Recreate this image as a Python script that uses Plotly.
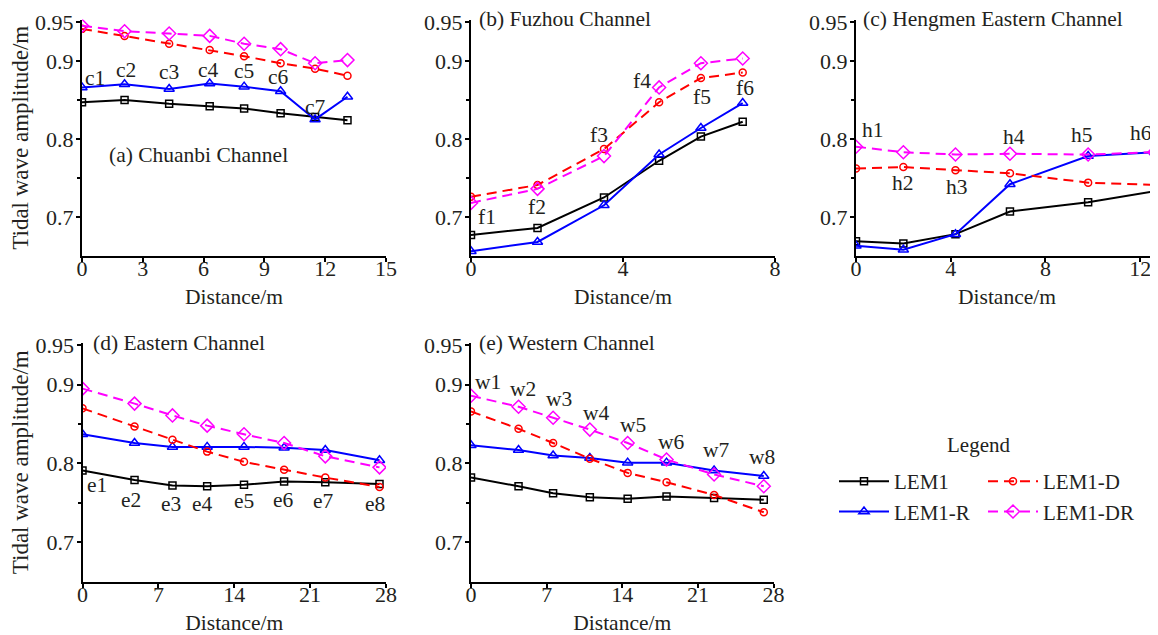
import plotly.graph_objects as go

FONT = "Liberation Serif"
TXT = "#231f20"

# ---------------- data ----------------
series_names = ["LEM1", "LEM1-R", "LEM1-D", "LEM1-DR"]

# (a) Chuanbi Channel
a_x = [0, 2.1, 4.3, 6.3, 8.0, 9.8, 11.5, 13.1]
a_lem1 = [0.847, 0.850, 0.845, 0.842, 0.839, 0.833, 0.828, 0.824]
a_lem1r = [0.866, 0.870, 0.864, 0.871, 0.867, 0.861, 0.825, 0.854]
a_lem1d = [0.941, 0.932, 0.922, 0.914, 0.906, 0.897, 0.890, 0.881]
a_lem1dr = [0.945, 0.938, 0.935, 0.932, 0.922, 0.915, 0.897, 0.901]
a_labels = ["c1", "c2", "c3", "c4", "c5", "c6", "c7"]
a_lab_x = [0.65, 2.15, 4.3, 6.25, 8.0, 9.7, 11.5]
a_lab_y = [0.878, 0.888, 0.886, 0.888, 0.887, 0.879, 0.841]

# (b) Fuzhou Channel
b_x = [0, 1.75, 3.5, 4.95, 6.05, 7.15]
b_lem1 = [0.677, 0.686, 0.725, 0.772, 0.803, 0.822]
b_lem1r = [0.656, 0.668, 0.715, 0.780, 0.814, 0.846]
b_lem1d = [0.726, 0.741, 0.787, 0.847, 0.878, 0.885]
b_lem1dr = [0.718, 0.736, 0.778, 0.866, 0.897, 0.903]
b_labels = ["f1", "f2", "f3", "f4", "f5", "f6"]
b_lab_x = [0.42, 1.73, 3.37, 4.51, 6.07, 7.21]
b_lab_y = [0.700, 0.713, 0.805, 0.874, 0.854, 0.865]

# (c) Hengmen Eastern Channel
c_x = [0, 2.0, 4.2, 6.5, 9.8, 12.6]
c_lem1 = [0.669, 0.666, 0.678, 0.707, 0.719, 0.733]
c_lem1r = [0.663, 0.658, 0.678, 0.742, 0.778, 0.783]
c_lem1d = [0.762, 0.764, 0.760, 0.756, 0.744, 0.741]
c_lem1dr = [0.790, 0.783, 0.780, 0.781, 0.780, 0.783]
c_labels = ["h1", "h2", "h3", "h4", "h5", "h6"]
c_lab_x = [0.73, 2.0, 4.25, 6.65, 9.53, 12.03]
c_lab_y = [0.811, 0.743, 0.738, 0.803, 0.805, 0.807]

# (d) Eastern Channel
d_x = [0, 4.8, 8.3, 11.5, 14.9, 18.6, 22.4, 27.4]
d_lem1 = [0.791, 0.779, 0.772, 0.771, 0.773, 0.777, 0.776, 0.774]
d_lem1r = [0.837, 0.826, 0.821, 0.821, 0.821, 0.820, 0.817, 0.804]
d_lem1d = [0.870, 0.847, 0.830, 0.815, 0.802, 0.792, 0.782, 0.770]
d_lem1dr = [0.895, 0.876, 0.861, 0.848, 0.837, 0.826, 0.809, 0.795]
d_labels = ["e1", "e2", "e3", "e4", "e5", "e6", "e7", "e8"]
d_lab_x = [1.3, 4.5, 8.2, 11.1, 14.9, 18.5, 22.2, 27.0]
d_lab_y = [0.773, 0.754, 0.748, 0.748, 0.752, 0.754, 0.752, 0.748]

# (e) Western Channel
e_x = [0, 4.4, 7.6, 11.0, 14.5, 18.1, 22.5, 27.1]
e_lem1 = [0.782, 0.771, 0.762, 0.757, 0.755, 0.758, 0.756, 0.754]
e_lem1r = [0.823, 0.817, 0.810, 0.807, 0.801, 0.801, 0.791, 0.784]
e_lem1d = [0.866, 0.844, 0.826, 0.806, 0.788, 0.776, 0.760, 0.738]
e_lem1dr = [0.886, 0.872, 0.858, 0.843, 0.826, 0.805, 0.786, 0.771]
e_labels = ["w1", "w2", "w3", "w4", "w5", "w6", "w7", "w8"]
e_lab_x = [1.6, 4.8, 8.1, 11.6, 15.0, 18.6, 22.7, 26.9]
e_lab_y = [0.903, 0.895, 0.882, 0.864, 0.849, 0.827, 0.817, 0.808]

panel_titles = ["(a) Chuanbi Channel", "(b) Fuzhou Channel",
                "(c) Hengmen Eastern Channel", "(d) Eastern Channel",
                "(e) Western Channel"]
x_ranges = [[0, 15], [0, 8], [0, 12.75], [0, 28], [0, 28]]
x_ticks = [[0, 3, 6, 9, 12, 15], [0, 4, 8], [0, 4, 8, 12],
           [0, 7, 14, 21, 28], [0, 7, 14, 21, 28]]
y_tickvals = [0.7, 0.8, 0.9, 0.95]
y_ticktext = ["0.7", "0.8", "0.9", "0.95"]
y_range = [0.65, 0.953]

panels = [
    (a_x, [a_lem1, a_lem1r, a_lem1d, a_lem1dr], a_labels, a_lab_x, a_lab_y),
    (b_x, [b_lem1, b_lem1r, b_lem1d, b_lem1dr], b_labels, b_lab_x, b_lab_y),
    (c_x, [c_lem1, c_lem1r, c_lem1d, c_lem1dr], c_labels, c_lab_x, c_lab_y),
    (d_x, [d_lem1, d_lem1r, d_lem1d, d_lem1dr], d_labels, d_lab_x, d_lab_y),
    (e_x, [e_lem1, e_lem1r, e_lem1d, e_lem1dr], e_labels, e_lab_x, e_lab_y),
]

# ---------------- style ----------------
styles = [
    dict(color="black", dash="solid", symbol="square-open", size=7, legend="legend"),
    dict(color="#0000ff", dash="solid", symbol="triangle-up-open", size=9, legend="legend"),
    dict(color="#ff0000", dash="10px,6px", symbol="circle-open", size=7, legend="legend2"),
    dict(color="#ff00ff", dash="10px,6px", symbol="diamond-open", size=10, legend="legend2"),
]

# page has an 8px body margin; figure sized to fit the 1158x635 window
OFF = 8
W, H = 1158 - OFF, 635 - OFF


def px(xp):
    return (xp - OFF) / W


def py(yp):
    return 1 - (yp - OFF) / H


x_domains = [[px(82), px(386)], [px(471), px(775)], [px(856), 1.0],
             [px(82.5), px(386)], [px(471), px(773.5)]]
top_dom = [py(256), py(19.5)]
bot_dom = [py(581.5), py(343)]
y_domains = [top_dom, top_dom, top_dom, bot_dom, bot_dom]

FS = 21.5

fig = go.Figure()
annotations = []
layout = {}

for i, (xs, ys_list, labs, lx, ly) in enumerate(panels):
    n = "" if i == 0 else str(i + 1)
    xa, ya = "x" + n, "y" + n
    for j, ys in enumerate(ys_list):
        st = styles[j]
        fig.add_trace(go.Scatter(
            x=xs, y=ys, mode="lines+markers", name=series_names[j],
            xaxis=xa, yaxis=ya,
            line=dict(color=st["color"], width=2, dash=st["dash"]),
            marker=dict(symbol=st["symbol"], size=st["size"], color=st["color"],
                        line=dict(width=1.5, color=st["color"])),
            showlegend=(i == 0), legend=st["legend"],
        ))
    for t, x0, y0 in zip(labs, lx, ly):
        annotations.append(dict(x=x0, y=y0, xref=xa, yref=ya, text=t,
                                showarrow=False, font=dict(size=FS, color=TXT)))
    layout["xaxis" + n] = dict(
        domain=x_domains[i], anchor=ya, range=x_ranges[i], automargin=False,
        tickvals=x_ticks[i], showline=True, linecolor="black", linewidth=2,
        ticks="outside", ticklen=4, tickwidth=1.5, tickcolor="black",
        ticklabelstandoff=-12,
        showgrid=False, zeroline=False,
        tickfont=dict(size=22, color=TXT),
        title=dict(text="Distance/m", font=dict(size=FS, color=TXT), standoff=9),
    )
    layout["yaxis" + n] = dict(
        domain=y_domains[i], anchor=xa, range=y_range, automargin=False,
        tickvals=y_tickvals, ticktext=y_ticktext,
        showline=True, linecolor="black", linewidth=2,
        ticks="outside", ticklen=4, tickwidth=1.5, tickcolor="black",
        ticklabelstandoff=-2,
        minor=dict(tickvals=[0.75, 0.85], ticks="outside", ticklen=3,
                   tickwidth=1.5, tickcolor="black"),
        showgrid=False, zeroline=False,
        tickfont=dict(size=22, color=TXT),
        title=dict(text="Tidal wave amplitude/m" if i in (0, 3) else "",
                   font=dict(size=23, color=TXT), standoff=8),
    )

# panel titles
annotations.append(dict(x=1.25, y=0.779, xref="x", yref="y", text=panel_titles[0],
                        xanchor="left", yanchor="middle", showarrow=False,
                        font=dict(size=FS, color=TXT)))
for k, (xa, ya, x0) in enumerate([("x2", "y2", 0.17), ("x3", "y3", 0.2),
                                   ("x4", "y4", 0.75), ("x5", "y5", 0.55)]):
    annotations.append(dict(x=x0, y=0.953, xref=xa, yref=ya, text=panel_titles[k + 1],
                            xanchor="left", yanchor="middle", showarrow=False,
                            font=dict(size=FS, color=TXT)))

annotations.append(dict(x=px(978), y=py(445), xref="paper", yref="paper",
                        xanchor="center", yanchor="middle",
                        text="Legend", showarrow=False, font=dict(size=21, color=TXT)))

legend_common = dict(orientation="v", bgcolor="rgba(0,0,0,0)",
                     font=dict(size=21, color=TXT, family=FONT),
                     tracegroupgap=0, itemwidth=50, yanchor="top", xanchor="left")

fig.update_layout(
    width=W, height=H,
    margin=dict(l=0, r=0, t=0, b=0),
    paper_bgcolor="white", plot_bgcolor="white",
    font=dict(family=FONT, size=FS, color=TXT),
    annotations=annotations,
    legend=dict(x=px(834), y=py(461), **legend_common),
    legend2=dict(x=px(983), y=py(461), **legend_common),
    **layout,
)

fig.write_html("out.html")
